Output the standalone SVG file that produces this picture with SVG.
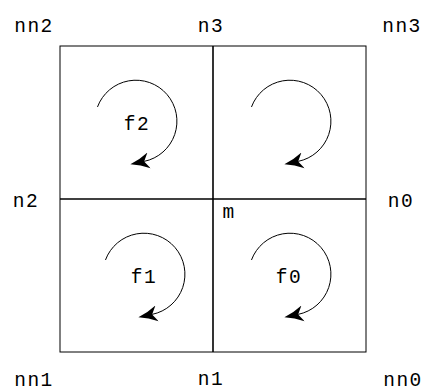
<svg xmlns="http://www.w3.org/2000/svg" width="424" height="391" viewBox="0 0 424 391">
<style>
text{font-family:"Liberation Mono","DejaVu Sans Mono",monospace;font-size:19.5px;fill:#000;text-anchor:middle;letter-spacing:1.5px}
.edge{stroke:#000;fill:none}
.arc{stroke:#000;stroke-width:1;fill:none;marker-end:url(#ah)}
</style>
<defs>
<marker id="ah" markerUnits="userSpaceOnUse" markerWidth="22" markerHeight="20" viewBox="0 -10 22 20" refX="5" refY="0" orient="auto">
<path d="M0,-8 Q9,-2.5 19,0 Q9,2.5 0,8 L5,0 Z" fill="#000"/>
</marker>
</defs>
<rect width="424" height="391" fill="#fff"/>
<g id="connectors">
<rect class="edge" x="60" y="46" width="306" height="306" stroke-width="1"/>
<line class="edge" x1="213" y1="46" x2="213" y2="352" stroke-width="1.6"/>
<line class="edge" x1="60" y1="199" x2="366" y2="199" stroke-width="1.6"/>
</g>
<g id="f2">
<path class="arc" d="M97.47,106.98 A41,41 0 1 1 144.12,161.38"/>
<text x="137" y="130">f2</text>
</g>
<g id="f3">
<path class="arc" d="M251.47,106.98 A41,41 0 1 1 298.12,161.38"/>
</g>
<g id="f1">
<path class="arc" d="M105.47,259.98 A41,41 0 1 1 152.12,314.38"/>
<text x="144" y="283">f1</text>
</g>
<g id="f0">
<path class="arc" d="M251.47,259.98 A41,41 0 1 1 298.12,314.38"/>
<text x="289" y="283">f0</text>
</g>
<g id="m"><text x="229" y="218">m</text></g>
<g id="nn2"><text x="34" y="32">nn2</text></g>
<g id="n3"><text x="211" y="32">n3</text></g>
<g id="nn3"><text x="402" y="32">nn3</text></g>
<g id="n2"><text x="26" y="207">n2</text></g>
<g id="n0"><text x="401" y="207">n0</text></g>
<g id="nn1"><text x="34" y="386">nn1</text></g>
<g id="n1"><text x="211" y="385">n1</text></g>
<g id="nn0"><text x="403" y="386">nn0</text></g>
</svg>
